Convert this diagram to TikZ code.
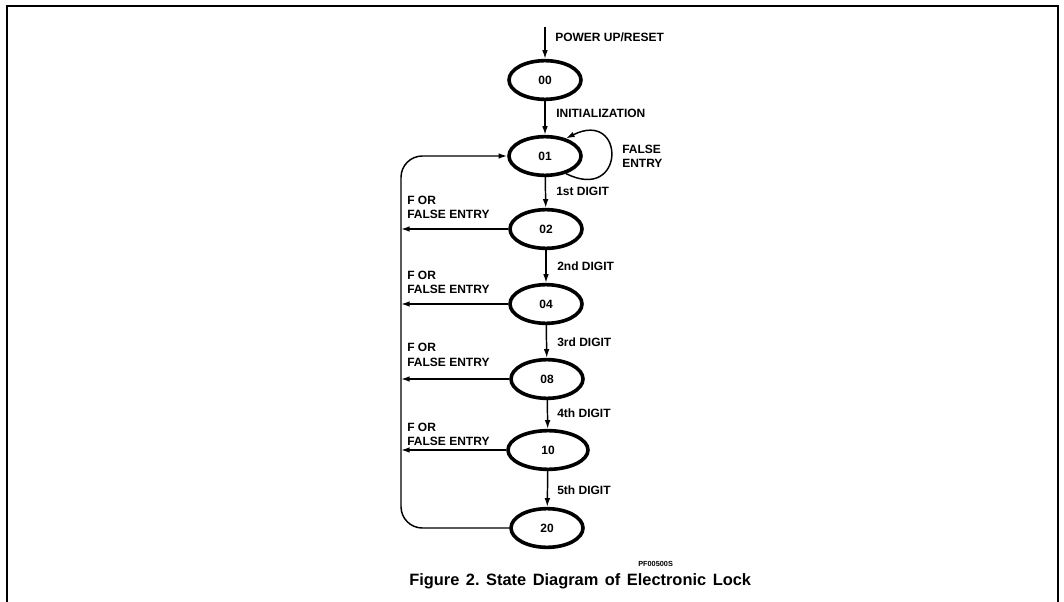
\documentclass[tikz,border=0pt]{standalone}
\usepackage{fontspec}
\setmainfont{Liberation Sans}
\usetikzlibrary{shapes.geometric,arrows.meta}
\begin{document}
\begin{tikzpicture}[x=0.75pt,y=-0.75pt,
  state/.style={draw,ellipse,line width=2.7pt,minimum width=54pt,minimum height=29pt,inner sep=0pt,font=\bfseries\fontsize{9}{10}\selectfont},
  arr/.style={line width=1.1pt,-{Latex[length=6.5pt,width=4.2pt]}},
  lab/.style={anchor=base west,inner sep=0pt,font=\bfseries\fontsize{9}{10}\selectfont},
  frame/.style={line width=1.5pt}]
\useasboundingbox (0,0) rectangle (1064,602);
\draw[frame] (7,602) -- (7,6) -- (1058,6) -- (1058,602);
\node[state] (s00) at (545,80) {00};
\node[state] (s01) at (545,156) {01};
\node[state] (s02) at (546,229) {02};
\node[state] (s04) at (546,304) {04};
\node[state] (s08) at (547,379) {08};
\node[state,minimum width=60pt] (s10) at (548,450) {10};
\node[state] (s20) at (547,528) {20};
\coordinate (top) at (545,27);
\coordinate (L) at (401,0);
\draw[arr] (top) -- (s00);
\draw[arr] (s00) -- (s01);
\draw[arr] (s01) -- (s02);
\draw[arr] (s02) -- (s04);
\draw[arr] (s04) -- (s08);
\draw[arr] (s08) -- (s10);
\draw[arr] (s10) -- (s20);
\draw[arr] (s01.-40) .. controls +(60,30) and +(60,-30) .. (s01.40);
\draw[arr] (s02.west) -- (s02.west -| L);
\draw[arr] (s04.west) -- (s04.west -| L);
\draw[arr] (s08.west) -- (s08.west -| L);
\draw[arr] (s10.west) -- (s10.west -| L);
\draw[arr,rounded corners=16] (s20.west) -- (s20.west -| L) -- (s01.west -| L) -- (s01.west);
\node[lab] (tpw) at (555,42) {POWER UP/RESET};
\node[lab] (tin) at (556,118) {INITIALIZATION};
\node[lab] (td1) at (556,196) {1st DIGIT};
\node[lab] (td2) at (557,271) {2nd DIGIT};
\node[lab] (td3) at (557,346) {3rd DIGIT};
\node[lab] (td4) at (557,417) {4th DIGIT};
\node[lab] (td5) at (557,494) {5th DIGIT};
\node[lab] (tfa) at (622,154) {FALSE};
\node[lab] (tfb) at (622,168) {ENTRY};
\node[lab] (f2a) at (407,205) {F OR};
\node[lab] (f2b) at (407,219) {FALSE ENTRY};
\node[lab] (f4a) at (407,280) {F OR};
\node[lab] (f4b) at (407,294) {FALSE ENTRY};
\node[lab] (f8a) at (407,352) {F OR};
\node[lab] (f8b) at (407,367) {FALSE ENTRY};
\node[lab] (f10a) at (407,431) {F OR};
\node[lab] (f10b) at (407,445) {FALSE ENTRY};
\node[lab,font=\bfseries\fontsize{5.5}{6}\selectfont] (pf) at (638,566) {PF00500S};
\node[lab,font=\bfseries\fontsize{12.3}{14}\selectfont] (cap) at (409,585) {\spaceskip=4.9pt\relax\xspaceskip=4.9pt\relax Figure 2. State Diagram of Electronic Lock};
\end{tikzpicture}
\end{document}
